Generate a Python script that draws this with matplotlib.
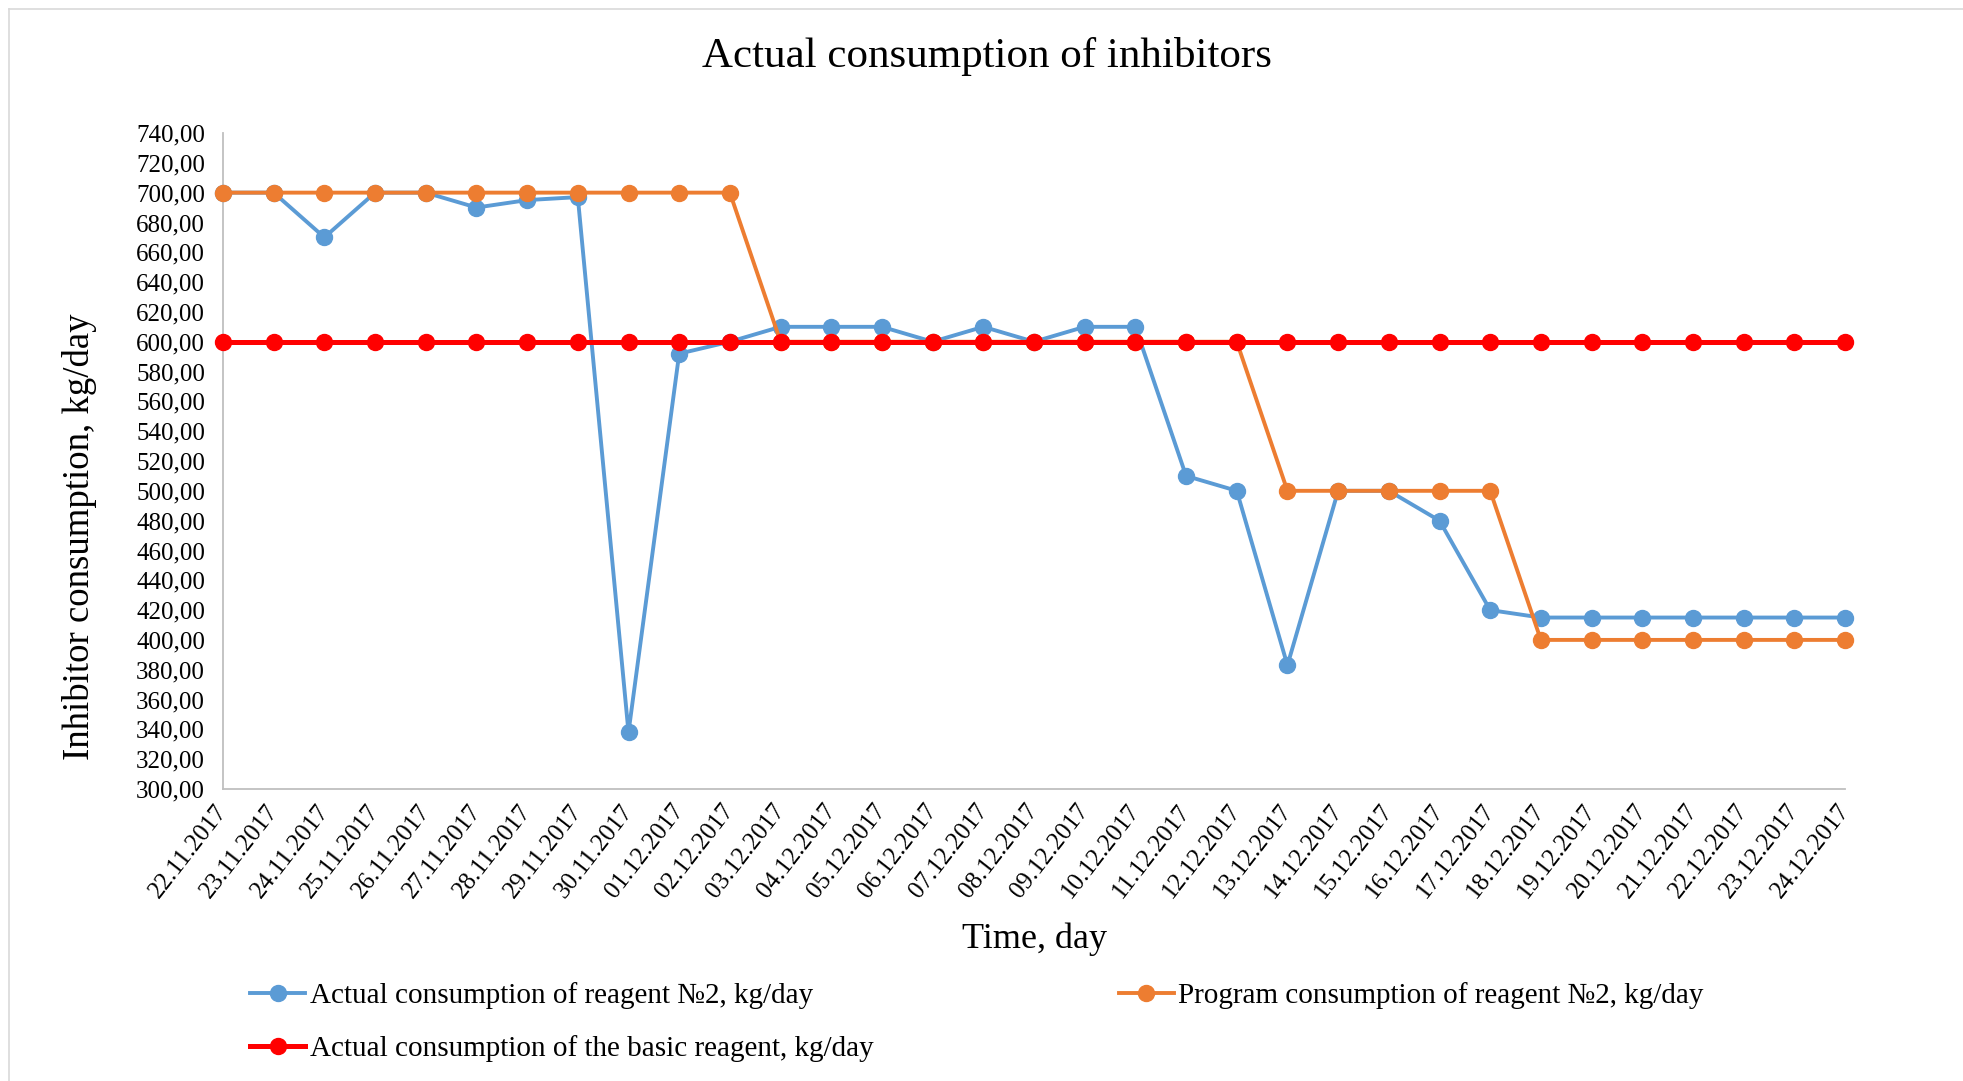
import matplotlib.pyplot as plt
from matplotlib.ticker import FuncFormatter, MultipleLocator

plt.rcParams['font.family'] = ['Liberation Serif', 'DejaVu Serif']

dates = ['22.11.2017', '23.11.2017', '24.11.2017', '25.11.2017', '26.11.2017',
         '27.11.2017', '28.11.2017', '29.11.2017', '30.11.2017', '01.12.2017',
         '02.12.2017', '03.12.2017', '04.12.2017', '05.12.2017', '06.12.2017',
         '07.12.2017', '08.12.2017', '09.12.2017', '10.12.2017', '11.12.2017',
         '12.12.2017', '13.12.2017', '14.12.2017', '15.12.2017', '16.12.2017',
         '17.12.2017', '18.12.2017', '19.12.2017', '20.12.2017', '21.12.2017',
         '22.12.2017', '23.12.2017', '24.12.2017']

# kg/day
actual_r2 = [700, 700, 670, 700, 700, 690, 695, 697, 338, 592,
             600, 610, 610, 610, 600, 610, 600, 610, 610, 510,
             500, 383, 500, 500, 480, 420, 415, 415, 415, 415,
             415, 415, 415]
program_r2 = [700, 700, 700, 700, 700, 700, 700, 700, 700, 700,
              700, 600, 600, 600, 600, 600, 600, 600, 600, 600,
              600, 500, 500, 500, 500, 500, 400, 400, 400, 400,
              400, 400, 400]
basic = [600, 600, 600, 600, 600, 600, 600, 600, 600, 600,
         600, 600, 600, 600, 600, 600, 600, 600, 600, 600,
         600, 600, 600, 600, 600, 600, 600, 600, 600, 600,
         600, 600, 600]

W, H = 1963, 1081
fig = plt.figure(figsize=(W / 100, H / 100), dpi=100)

# light chart frame
fig.add_artist(plt.Line2D([9 / W, 1], [1 - 9 / H, 1 - 9 / H], color='#D9D9D9', lw=1.2))
fig.add_artist(plt.Line2D([9 / W, 9 / W], [0, 1 - 9 / H], color='#D9D9D9', lw=1.2))

ax = fig.add_axes([223 / W, 292 / H, 1622 / W, 656 / H])
x = list(range(len(dates)))

l1, = ax.plot(x, actual_r2, color='#5B9BD5', lw=2.8, marker='o', ms=11.5,
              clip_on=False, zorder=3, label='Actual consumption of reagent №2, kg/day')
l2, = ax.plot(x, program_r2, color='#ED7D31', lw=2.8, marker='o', ms=11.5,
              clip_on=False, zorder=4, label='Program consumption of reagent №2, kg/day')
l3, = ax.plot(x, basic, color='#FF0000', lw=3.6, marker='o', ms=11.5,
              clip_on=False, zorder=5, label='Actual consumption of the basic reagent, kg/day')

ax.set_xlim(0, len(dates) - 1)
ax.set_ylim(300, 740)
ax.yaxis.set_major_locator(MultipleLocator(20))
ax.yaxis.set_major_formatter(FuncFormatter(lambda v, p: f'{v:.2f}'.replace('.', ',')))
ax.set_xticks(x)
ax.set_xticklabels(dates, rotation=52, ha='right', va='center', rotation_mode='anchor')
ax.tick_params(axis='both', length=0, labelsize=18)
ax.tick_params(axis='y', pad=13)
ax.tick_params(axis='x', pad=13)

for side in ['top', 'right']:
    ax.spines[side].set_visible(False)
for side in ['left', 'bottom']:
    ax.spines[side].set_color('#BFBFBF')
    ax.spines[side].set_linewidth(1.3)

fig.text(987 / W, 1 - 56 / H, 'Actual consumption of inhibitors', fontsize=31,
         ha='center', va='center')
fig.text(1034 / W, 1 - 939 / H, 'Time, day', fontsize=26, ha='center', va='center')
fig.text(80 / W, 1 - 537 / H, 'Inhibitor consumption, kg/day', fontsize=26.5,
         rotation=90, ha='center', va='center')

fig.legend(handles=[l1, l3, l2], ncol=2, loc='center left',
           bbox_to_anchor=(250 / W, 59 / H), frameon=False, fontsize=21,
           handlelength=1.9, handletextpad=0.15, columnspacing=8.4,
           labelspacing=0.9, borderpad=0, borderaxespad=0)

fig.savefig('out.png', dpi=100)
